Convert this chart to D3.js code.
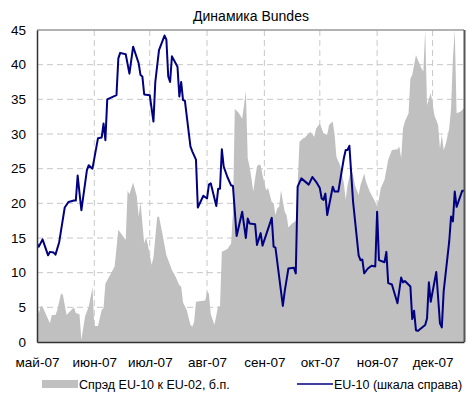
<!DOCTYPE html>
<html>
<head>
<meta charset="utf-8">
<script src="https://cdn.jsdelivr.net/npm/d3@7"></script>
<style>
  body { margin: 0; background: #fff; }
  svg { display: block; font-family: "Liberation Sans", Arial, sans-serif; }
</style>
</head>
<body>
<div id="chart"></div>
<script>
// spread EU-10 vs EU-02 (gray area), bp
const spreadDates = [
  "05-01","05-02","05-03","05-04","05-08","05-09","05-11","05-12","05-14","05-15",
  "05-17","05-21","05-22","05-24","05-25","05-27","05-29","05-31","06-01","06-03",
  "06-05","06-06","06-07","06-12","06-14","06-18","06-19","06-20","06-22","06-24",
  "06-25","06-26","06-28","06-29","06-30","07-02","07-03","07-05","07-06","07-08",
  "07-10","07-12","07-13","07-15","07-17","07-18","07-19","07-21","07-23","07-24",
  "07-25","07-26","07-31","08-01","08-02","08-03","08-05","08-07","08-08","08-09",
  "08-12","08-13","08-14","08-15","08-16","08-18","08-20","08-22","08-23","08-24",
  "08-25","08-26","08-27","08-28","08-29","08-30","08-31","09-02","09-03","09-04",
  "09-05","09-06","09-07","09-08","09-09","09-10","09-12","09-13","09-14","09-16",
  "09-18","09-19","09-20","09-22","09-23","09-25","09-26","09-28","09-29","10-01",
  "10-02","10-03","10-05","10-06","10-08","10-09","10-10","10-12","10-14","10-15",
  "10-16","10-18","10-19","10-20","10-22","10-23","10-25","10-26","10-28","10-29",
  "10-31","11-01","11-02","11-03","11-05","11-07","11-09","11-12","11-13","11-14",
  "11-15","11-16","11-18","11-19","11-20","11-22","11-23","11-25","11-26","11-27",
  "11-28","11-30","12-01","12-02","12-04","12-05","12-06","12-07","12-08","12-10",
  "12-11","12-12","12-13","12-14","12-16","12-18"
];
const spreadValues = [
  5.8, 4.1, 5.2, 5.1, 2.7, 3.9, 3.9, 4.6, 7.0, 6.8,
  3.9, 5.0, 4.2, 4.0, 0.3, 3.7, 5.1, 7.9, 2.3, 2.3,
  4.6, 4.9, 8.4, 10.9, 16.2, 14.7, 21.8, 21.3, 23.0, 21.0,
  18.1, 20.2, 14.2, 15.1, 14.0, 11.1, 12.2, 18.0, 18.1, 15.4,
  12.5, 11.1, 10.4, 9.4, 8.2, 8.0, 5.7, 4.6, 2.5, 2.2,
  2.9, 5.8, 6.0, 7.3, 7.0, 4.0, 2.5, 5.2, 5.1, 13.0,
  13.4, 13.8, 14.2, 18.6, 33.6, 33.1, 32.2, 36.2, 26.5, 25.3,
  23.6, 21.7, 23.6, 25.3, 25.6, 25.5, 24.1, 21.9, 22.2, 21.2,
  20.2, 20.0, 18.3, 19.3, 19.5, 21.9, 18.8, 18.3, 16.5, 17.1,
  17.5, 22.6, 28.9, 29.4, 29.5, 30.1, 30.3, 29.6, 30.8, 31.5,
  30.8, 30.1, 29.9, 31.3, 31.8, 29.9, 26.7, 25.5, 22.9, 20.5,
  22.6, 25.0, 24.1, 22.6, 21.2, 22.6, 24.3, 23.1, 21.7, 21.2,
  20.2, 19.5, 20.7, 22.2, 23.4, 26.3, 27.7, 27.8, 28.2, 26.5,
  30.8, 31.8, 33.0, 38.0, 38.5, 41.4, 40.7, 39.5, 39.0, 45.0,
  34.2, 35.9, 34.4, 32.7, 31.3, 27.9, 29.9, 27.7, 28.4, 30.8,
  33.7, 40.9, 45.0, 33.0, 33.2, 33.7
];

// EU-10 yield line
const eu10Dates = [
  "05-01","05-02","05-04","05-07","05-08","05-10","05-11","05-13","05-16","05-18",
  "05-21","05-22","05-23","05-25","05-28","05-29","05-31","06-03","06-05","06-06",
  "06-07","06-08","06-13","06-14","06-15","06-18","06-20","06-22","06-25","06-26",
  "06-27","06-28","07-01","07-03","07-04","07-06","07-09","07-10","07-11","07-12",
  "07-13","07-15","07-16","07-17","07-18","07-19","07-20","07-23","07-24","07-26",
  "07-27","07-30","08-01","08-02","08-03","08-06","08-07","08-08","08-09","08-10",
  "08-12","08-14","08-15","08-17","08-20","08-22","08-23","08-24","08-27","08-28",
  "08-30","08-31","09-05","09-06","09-07","09-11","09-12","09-14","09-17","09-18",
  "09-19","09-21","09-25","09-27","09-29","10-01","10-02","10-03","10-04","10-05",
  "10-08","10-09","10-11","10-14","10-15","10-16","10-17","10-19","10-22","10-23",
  "10-24","10-25","10-27","10-29","10-31","11-01","11-02","11-05","11-06","11-07",
  "11-09","11-12","11-14","11-15","11-16","11-19","11-20","11-21","11-22","11-23",
  "11-27","11-28","11-29","11-30","12-03","12-05","12-06","12-07","12-10","12-11",
  "12-12","12-13","12-14","12-17","12-18"
];
const eu10Values = [
  14.2, 13.75, 14.8, 12.5, 13.0, 12.9, 12.6, 14.4, 19.4, 20.2,
  20.4, 20.4, 24.0, 19.0, 24.8, 25.5, 25.0, 29.4, 29.5, 31.5,
  29.1, 35.0, 35.6, 40.9, 41.7, 41.5, 38.7, 42.6, 40.2, 38.5,
  38.3, 35.7, 35.6, 31.8, 37.5, 42.1, 44.2, 43.6, 38.3, 37.5,
  41.2, 40.2, 39.7, 35.4, 37.5, 34.9, 34.8, 28.2, 27.5, 26.3,
  19.4, 21.1, 20.7, 22.7, 22.9, 19.6, 22.1, 22.1, 27.8, 25.3,
  23.8, 22.6, 22.5, 15.3, 18.8, 15.0, 17.8, 17.1, 17.0, 14.0,
  15.7, 13.9, 17.9, 13.75, 13.6, 5.2, 7.3, 10.6, 10.7, 9.9,
  22.4, 23.6, 22.7, 23.8, 23.1, 22.2, 20.7, 20.5, 21.4, 18.3,
  22.4, 21.7, 21.7, 26.5, 27.7, 27.7, 28.3, 20.2, 12.5, 11.8,
  11.9, 9.9, 10.6, 11.0, 10.9, 18.8, 11.8, 11.5, 13.0, 8.5,
  8.3, 5.6, 9.3, 8.6, 8.8, 8.0, 3.3, 4.5, 1.7, 1.6,
  2.45, 3.4, 8.6, 5.8, 10.1, 2.7, 2.1, 7.3, 14.5, 18.1,
  17.4, 21.7, 19.5, 21.8, 21.8
];

const yTicks = [0, 5, 10, 15, 20, 25, 30, 35, 40, 45];
const monthTicks = ["05-01","06-01","07-01","08-01","09-01","10-01","11-01","12-01"];
const monthLabels = ["май-07","июн-07","июл-07","авг-07","сен-07","окт-07","ноя-07","дек-07"];

const title = "Динамика Bundes";
const legendSpread = "Спрэд EU-10 к EU-02, б.п.";
const legendLine = "EU-10 (шкала справа)";

const parse = d3.timeParse("%Y-%m-%d");
const toDate = s => parse("2007-" + s);

const W = 473, H = 412;
const plot = { left: 37, right: 464, top: 30, bottom: 342 };

const svg = d3.select("#chart").append("svg")
  .attr("width", W)
  .attr("height", H);

const x = d3.scaleTime()
  .domain([toDate("05-01"), toDate("12-18")])
  .range([plot.left, plot.right]);

const y = d3.scaleLinear()
  .domain([0, 45])
  .range([plot.bottom, plot.top]);

svg.append("defs").append("clipPath").attr("id", "clip")
  .append("rect")
  .attr("x", plot.left).attr("y", plot.top)
  .attr("width", plot.right - plot.left).attr("height", plot.bottom - plot.top);

// horizontal grid
svg.append("g")
  .selectAll("line")
  .data(yTicks.filter(d => d > 0 && d < 45))
  .enter().append("line")
  .attr("x1", plot.left).attr("x2", plot.right)
  .attr("y1", d => y(d)).attr("y2", d => y(d))
  .attr("stroke", "#c8c8c8")
  .attr("stroke-dasharray", "6,4");

// vertical grid on month starts
svg.append("g")
  .selectAll("line")
  .data(monthTicks.slice(1))
  .enter().append("line")
  .attr("x1", d => x(toDate(d))).attr("x2", d => x(toDate(d)))
  .attr("y1", plot.top).attr("y2", plot.bottom)
  .attr("stroke", "#c8c8c8")
  .attr("stroke-dasharray", "6,4");

// spread area
const spread = spreadDates.map((d, i) => ({ date: toDate(d), value: spreadValues[i] }));
svg.append("path")
  .datum(spread)
  .attr("clip-path", "url(#clip)")
  .attr("fill", "#c0c0c0")
  .attr("d", d3.area()
    .x(d => x(d.date))
    .y0(y(0))
    .y1(d => y(d.value)));

// EU-10 line
const eu10 = eu10Dates.map((d, i) => ({ date: toDate(d), value: eu10Values[i] }));
svg.append("path")
  .datum(eu10)
  .attr("clip-path", "url(#clip)")
  .attr("fill", "none")
  .attr("stroke", "#000080")
  .attr("stroke-width", 2)
  .attr("stroke-linejoin", "round")
  .attr("d", d3.line()
    .x(d => x(d.date))
    .y(d => y(d.value)));

// frame: top and right edges
svg.append("line")
  .attr("x1", plot.left).attr("x2", plot.right)
  .attr("y1", plot.top).attr("y2", plot.top)
  .attr("stroke", "#999").attr("stroke-width", 1.5);
svg.append("line")
  .attr("x1", plot.right + 0.5).attr("x2", plot.right + 0.5)
  .attr("y1", plot.top).attr("y2", plot.bottom)
  .attr("stroke", "#555").attr("stroke-width", 2);

// y axis
const yAxis = svg.append("g")
  .attr("transform", `translate(${plot.left},0)`)
  .call(d3.axisLeft(y).tickValues(yTicks).tickSize(0).tickPadding(11));
yAxis.select(".domain").attr("stroke", "#333").attr("stroke-width", 1.5);
yAxis.selectAll("text")
  .attr("fill", "#000")
  .style("font-family", "Liberation Sans, Arial, sans-serif")
  .style("font-size", "13.5px");

// x axis
const xAxis = svg.append("g")
  .attr("transform", `translate(0,${plot.bottom})`)
  .call(d3.axisBottom(x)
    .tickValues(monthTicks.map(toDate))
    .tickFormat((d, i) => monthLabels[i])
    .tickSize(0)
    .tickPadding(15));
xAxis.select(".domain").attr("stroke", "#333").attr("stroke-width", 1.5);
xAxis.selectAll("text")
  .attr("fill", "#000")
  .style("font-family", "Liberation Sans, Arial, sans-serif")
  .style("font-size", "13.5px");

// title
svg.append("text")
  .attr("x", 251)
  .attr("y", 21)
  .attr("text-anchor", "middle")
  .style("font-size", "14px")
  .text(title);

// legend
svg.append("rect")
  .attr("x", 42).attr("y", 380)
  .attr("width", 36).attr("height", 8)
  .attr("fill", "#c0c0c0");
svg.append("text")
  .attr("x", 79).attr("y", 389)
  .style("font-size", "12.5px")
  .text(legendSpread);

svg.append("line")
  .attr("x1", 297).attr("x2", 333)
  .attr("y1", 384).attr("y2", 384)
  .attr("stroke", "#000080").attr("stroke-width", 1.5);
svg.append("text")
  .attr("x", 334).attr("y", 389)
  .style("font-size", "12.5px")
  .text(legendLine);
</script>
</body>
</html>
